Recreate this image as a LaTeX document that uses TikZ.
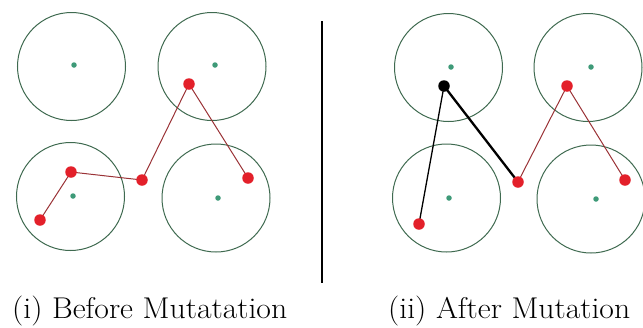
\documentclass[tikz,border=0pt]{standalone}
\usepackage{graphicx}
\definecolor{ringcol}{HTML}{3F6A50}
\definecolor{centcol}{HTML}{3E9A78}
\definecolor{ptred}{HTML}{E3202A}
\definecolor{linered}{HTML}{9A3236}
\begin{document}
\begin{tikzpicture}[x=1pt,y=-1pt,
  ring/.style={circle,draw=ringcol,line width=1pt,minimum size=108pt,inner sep=0pt},
  cent/.style={circle,fill=centcol,minimum size=5.5pt,inner sep=0pt},
  rpt/.style={circle,fill=ptred,minimum size=11.5pt,inner sep=0pt},
  bpt/.style={circle,fill=black,minimum size=11.5pt,inner sep=0pt},
  redline/.style={draw=linered,line width=1pt},
  caption/.style={anchor=base west,inner sep=0pt}]
\useasboundingbox (0,0) rectangle (643,327);
% left panel rings
\node[ring] (lr1) at (71.5,66.5) {};
\node[ring] (lr2) at (212,66.5) {};
\node[ring] (lr3) at (70.5,196.5) {};
\node[ring] (lr4) at (216,198) {};
\node[cent] (lc1) at (74,65) {};
\node[cent] (lc2) at (215,65) {};
\node[cent] (lc3) at (73,196) {};
\node[cent] (lc4) at (218,198) {};
% right panel rings
\node[ring] (rr1) at (448.5,67.5) {};
\node[ring] (rr2) at (588,67.5) {};
\node[ring] (rr3) at (446.5,198) {};
\node[ring] (rr4) at (591,199) {};
\node[cent] (rc1) at (451,67) {};
\node[cent] (rc2) at (591,67) {};
\node[cent] (rc3) at (449,198) {};
\node[cent] (rc4) at (596,199) {};
% left chain
\coordinate (p1) at (40,220);
\coordinate (p2) at (71,172);
\coordinate (p3) at (142,180);
\coordinate (p4) at (189,84);
\coordinate (p5) at (248,178);
\draw[redline] (p1) -- (p2) -- (p3) -- (p4) -- (p5);
\node[rpt] (lp1) at (p1) {};
\node[rpt] (lp2) at (p2) {};
\node[rpt] (lp3) at (p3) {};
\node[rpt] (lp4) at (p4) {};
\node[rpt] (lp5) at (p5) {};
% right chain
\coordinate (q1) at (419,224);
\coordinate (q2) at (444,86);
\coordinate (q3) at (518,182);
\coordinate (q4) at (567,86);
\coordinate (q5) at (625,180);
\draw[black,line width=1.3pt] (q1) -- (q2);
\draw[black,line width=2.3pt] (q2) -- (q3);
\draw[redline] (q3) -- (q4) -- (q5);
\node[rpt] (rp1) at (q1) {};
\node[bpt] (rp2) at (q2) {};
\node[rpt] (rp3) at (q3) {};
\node[rpt] (rp4) at (q4) {};
\node[rpt] (rp5) at (q5) {};
% separator
\coordinate (s1) at (322,21);
\coordinate (s2) at (322,283);
\draw[black,line width=1.3pt] (s1) -- (s2);
% captions
\node[caption] (cap1) at (12,318) {\resizebox{275pt}{22.5pt}{\fontsize{24}{28}\selectfont (i) Before Mutatation}};
\node[caption] (cap2) at (388,318) {\resizebox{242pt}{22.5pt}{\fontsize{24}{28}\selectfont (ii) After Mutation}};
\end{tikzpicture}
\end{document}
